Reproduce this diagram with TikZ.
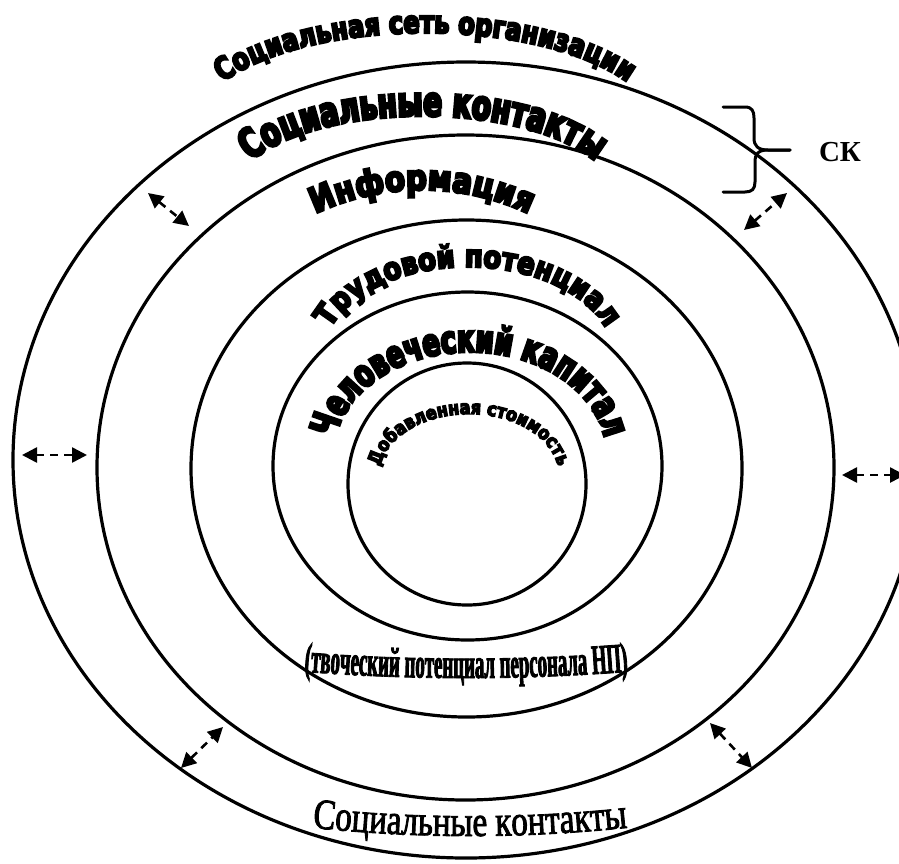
\documentclass[tikz,border=0pt]{standalone}
\usepackage{fontspec}
\usetikzlibrary{shapes.geometric,arrows.meta,decorations.text}
\newfontfamily\waA{DejaVu Sans}[FakeStretch=0.68,FakeBold=7]
\newfontfamily\waB{DejaVu Sans}[FakeStretch=0.78,FakeBold=7]
\newfontfamily\waC{DejaVu Sans}[FakeStretch=0.84,FakeBold=7]
\newfontfamily\srA{Liberation Serif}[FakeStretch=0.77,FakeBold=2]
\newfontfamily\srB{Liberation Serif}[FakeStretch=0.45,FakeBold=2]
\newfontfamily\srC{Liberation Serif}
\begin{document}
\begin{tikzpicture}[x=1pt,y=1pt,
  ring/.style={draw, line width=3.2pt, ellipse, inner sep=0pt},
  dblarrow/.style={line width=2.6pt, dash pattern=on 8pt off 6pt,
    {Triangle[length=15pt,width=15pt]}-{Triangle[length=15pt,width=15pt]}},
  bracestyle/.style={line width=3pt, line cap=round, line join=round}]
\useasboundingbox (0,0) rectangle (899,-863);

% rings
\node[ring, minimum width=906pt, minimum height=796pt] (r1) at (466,-460) {};
\node[ring, minimum width=737pt, minimum height=665pt] (r2) at (465.5,-467.5) {};
\node[ring, minimum width=551pt, minimum height=497pt] (r3) at (466.5,-468.5) {};
\node[ring, minimum width=389pt, minimum height=348pt] (r4) at (467.5,-466) {};
\node[ring, minimum width=238pt, minimum height=242pt] (r5) at (467,-484) {};

% arched texts
\path[decorate, decoration={text along path, text align=center,
  text={|\waB\bfseries\fontsize{31}{38}\selectfont|Социальная сеть организации}}]
  (192,-131) arc[start angle=180, end angle=0, x radius=233, y radius=98];
\path[decorate, decoration={text along path, text align=center,
  text={|\waA\bfseries\fontsize{41}{50}\selectfont|Социальные контакты}}]
  (233,-195) arc[start angle=180, end angle=0, x radius=190, y radius=79];
\path[decorate, decoration={text along path, text align=center,
  text={|\waC\bfseries\fontsize{35}{44}\selectfont|Информация}}]
  (172,-440) arc[start angle=180, end angle=0, radius=250];
\path[decorate, decoration={text along path, text align=center,
  text={|\waC\bfseries\fontsize{31}{36}\selectfont|Трудовой потенциал}}]
  (323,-357) arc[start angle=180, end angle=0, x radius=145, y radius=90];
\path[decorate, decoration={text along path, text align=center,
  text={|\waA\bfseries\fontsize{38}{44}\selectfont|Человеческий капитал}}]
  (334,-454) arc[start angle=180, end angle=0, x radius=136, y radius=102];
\path[decorate, decoration={text along path, text align=center,
  text={|\waC\bfseries\fontsize{19}{23}\selectfont|Добавленная стоимость}}]
  (379,-476) arc[start angle=180, end angle=0, x radius=90, y radius=62];

% smile texts
\path[decorate, decoration={text along path, text align=center,
  text={|\srB\bfseries\fontsize{42}{48}\selectfont|(твоческий потенциал персонала НП)}}]
  (466,1422) ++(260:2100) arc[start angle=260, end angle=280, radius=2100];
\path[decorate, decoration={text along path, text align=center,
  text={|\srA\fontsize{43}{50}\selectfont|Социальные контакты}}]
  (470,664) ++(262:1500) arc[start angle=262, end angle=278, radius=1500];

% brace and label
\draw[bracestyle] (723,-107) -- (745,-107) .. controls (752,-107) and (754,-111) .. (754,-118)
  -- (754,-138) .. controls (754,-146) and (758,-150) .. (768,-150) -- (790,-150);
\draw[bracestyle] (790,-150) -- (768,-150) .. controls (758,-150) and (755,-154) .. (755,-162)
  -- (755,-182) .. controls (755,-189) and (752,-192) .. (745,-192) -- (723,-192);
\node[inner sep=0pt] (sk) at (840,-152) {\srC\bfseries\fontsize{29}{34}\selectfont СК};

% arrows
\coordinate (aL1) at (22,-455);  \coordinate (aL2) at (87,-455);
\coordinate (aR1) at (842,-475); \coordinate (aR2) at (905,-475);
\coordinate (aTL1) at (148,-193); \coordinate (aTL2) at (189,-226);
\coordinate (aTR1) at (744,-230); \coordinate (aTR2) at (787,-193);
\coordinate (aBL1) at (181,-768); \coordinate (aBL2) at (223,-727);
\coordinate (aBR1) at (710,-723); \coordinate (aBR2) at (752,-768);
\draw[dblarrow] (aL1) -- (aL2);
\draw[dblarrow] (aR1) -- (aR2);
\draw[dblarrow] (aTL1) -- (aTL2);
\draw[dblarrow] (aTR1) -- (aTR2);
\draw[dblarrow] (aBL1) -- (aBL2);
\draw[dblarrow] (aBR1) -- (aBR2);
\end{tikzpicture}
\end{document}
